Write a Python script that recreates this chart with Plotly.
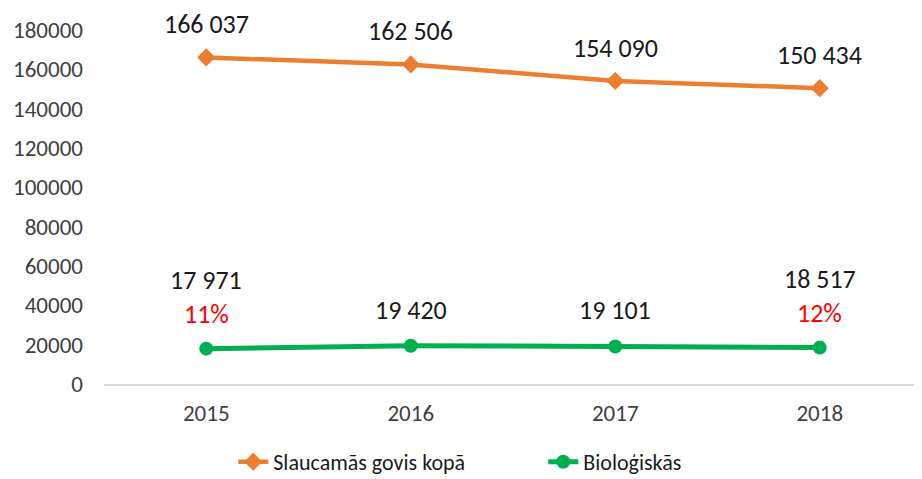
import plotly.graph_objects as go

years = ["2015", "2016", "2017", "2018"]
total_cows = [166037, 162506, 154090, 150434]
organic_cows = [17971, 19420, 19101, 18517]
organic_share = ["11%", "", "", "12%"]

ORANGE = "#ED7D31"
GREEN = "#00B050"
FONT = "Carlito, Calibri, Lato, sans-serif"


def fmt(v):
    return f"{v:,}".replace(",", " ")


fig = go.Figure()
fig.add_trace(go.Scatter(
    x=years, y=total_cows, name="Slaucamās govis kopā", mode="lines+markers",
    line=dict(color=ORANGE, width=4.5), marker=dict(symbol="diamond", size=14, color=ORANGE),
))
fig.add_trace(go.Scatter(
    x=years, y=organic_cows, name="Bioloģiskās", mode="lines+markers",
    line=dict(color=GREEN, width=5), marker=dict(symbol="circle", size=14, color=GREEN),
))

# annotations placed by category index on the category axis
for i, v in enumerate(total_cows):
    fig.add_annotation(x=i, y=v, text=fmt(v), showarrow=False, yshift=33,
                       font=dict(size=26, color="#1a1a1a"))

for i, (v, s) in enumerate(zip(organic_cows, organic_share)):
    if s:
        fig.add_annotation(x=i, y=v, text=fmt(v), showarrow=False, yshift=69,
                           font=dict(size=26, color="#1a1a1a"))
        fig.add_annotation(x=i, y=v, text=s, showarrow=False, yshift=35,
                           font=dict(size=26, color="#FF0000"))
    else:
        fig.add_annotation(x=i, y=v, text=fmt(v), showarrow=False, yshift=36,
                           font=dict(size=26, color="#1a1a1a"))

# page body has an 8px margin, so the figure is a bit smaller than the window
fig.update_layout(
    width=914, height=471,
    font=dict(family=FONT, size=23, color="#404040"),
    paper_bgcolor="white", plot_bgcolor="white",
    margin=dict(l=96, r=0, t=22, b=95, autoexpand=False),
    showlegend=True,
    legend=dict(orientation="h", x=0.537, xanchor="center", y=-0.22, yanchor="middle",
                font=dict(size=22, color="#1a1a1a"), entrywidth=265),
)
fig.update_xaxes(type="category", range=[-0.5, 3.5], showgrid=False, showline=True,
                 linecolor="#D9D9D9", linewidth=1.5, ticks="", ticklabelstandoff=8)
fig.update_yaxes(range=[0, 180000], dtick=20000, tickformat="d", showgrid=False,
                 zeroline=False, showline=False, ticklabelstandoff=20)

fig.write_html("out.html")
